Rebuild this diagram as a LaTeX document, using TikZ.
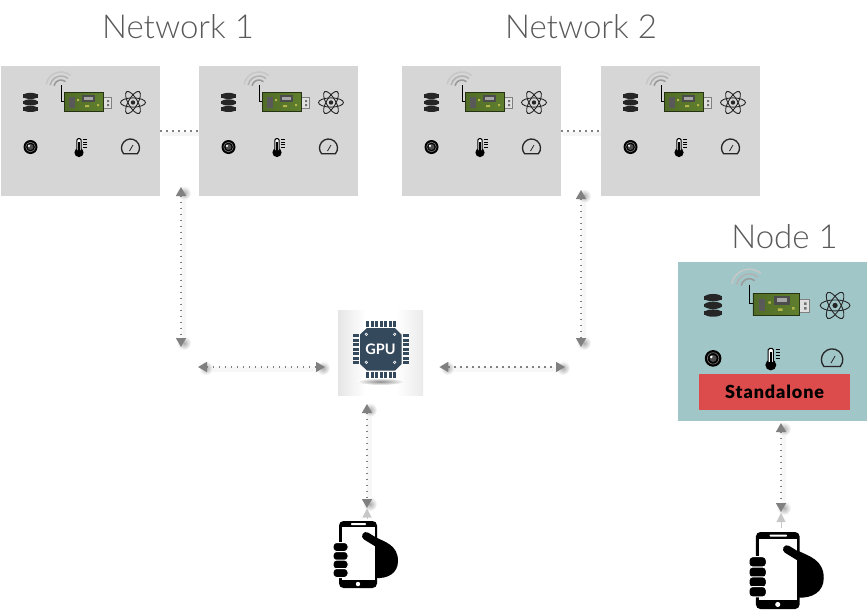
\documentclass[tikz,border=0pt]{standalone}
\usepackage{fontspec}
\setmainfont{Lato}
\newfontfamily\titlefont{Lato Light}
\newfontfamily\heavyfont[LetterSpace=5]{Lato Black}
\usetikzlibrary{arrows.meta,calc}
\definecolor{panelgray}{HTML}{D6D6D6}
\definecolor{panelteal}{HTML}{A0C6C8}
\definecolor{redbar}{HTML}{DC4C4C}
\definecolor{chipblue}{HTML}{34495C}
\definecolor{icondark}{HTML}{262626}
\definecolor{pcb}{HTML}{5F7F2E}
\definecolor{linkgray}{HTML}{808080}
\tikzset{
  panelbox/.style={draw=none,fill=panelgray,inner sep=0pt,anchor=north west,minimum width=159pt,minimum height=130pt},
  titletext/.style={font=\titlefont\fontsize{33}{36}\selectfont,text=black!65,inner sep=0pt},
  dottedlink/.style={draw=linkgray,line width=1.6pt,dash pattern=on 1.8pt off 4.2pt},
  dlink/.style={dottedlink,{Triangle[width=10pt,length=9pt]}-{Triangle[width=10pt,length=9pt]}},
  ghosttip/.style={draw=black!22,line width=.1pt,-{Triangle[width=9pt,length=9pt]}},
  halo/.style={draw=black!3,line width=5pt},
  glow/.style={inner color=black!32,outer color=white,draw=none},
  wifi/.style={draw=black!35,line width=1.5pt},
  sensorset/.pic={
    % database
    \foreach \yy in {30,36.5,43}{
      \fill[icondark] (22,\yy) .. controls (22,\yy-4.2) and (37,\yy-4.2) .. (37,\yy) .. controls (37,\yy+4) and (22,\yy+4) .. (22,\yy) -- cycle;
      \fill[icondark] (22,\yy-1.6) rectangle (37,\yy+1.6);
    }
    % radio board
    \draw[wifi,draw=black!22] ($(60,21)+(-170:15)$) arc[start angle=-170,end angle=-50,radius=15];
    \draw[wifi,draw=black!30] ($(60,21)+(-170:11)$) arc[start angle=-170,end angle=-50,radius=11];
    \draw[wifi,draw=black!40] ($(60,21)+(-170:7)$) arc[start angle=-170,end angle=-50,radius=7];
    \draw[black,line width=1pt] (60,19) -- (60,35) -- (63,35);
    \fill[black!12] (100,31) rectangle (110,42);
    \draw[black!50,line width=.6pt] (100,31) rectangle (110,42);
    \fill[black!55] (106,34) rectangle (108,36) (106,38) rectangle (108,40);
    \shade[left color=pcb!85!black,right color=pcb,draw=black!60!pcb,line width=.6pt] (63,26.5) rectangle (102,45);
    \fill[black!65] (68,31) rectangle (73.5,41.5);
    \fill[black!70] (81,28.5) rectangle (94,36);
    \fill[black!35] (83,30.5) rectangle (92,34);
    \fill[yellow!45!pcb] (76,33) rectangle (78,35) (96,38) rectangle (98,40) (84,39) rectangle (88,41);
    % atom
    \begin{scope}[shift={(132,36.5)}]
      \foreach \aa in {0,60,-60}{
        \draw[icondark,line width=.9pt,rotate=\aa] (0,0) ellipse[x radius=12.5,y radius=4.6];
      }
      \fill[icondark] (0,0) circle[radius=2.2];
    \end{scope}
    % lens
    \fill[black] (29.5,81) circle[radius=7];
    \draw[black!55,line width=.7pt] (29.5,81) circle[radius=4.8];
    \fill[black!70] (29.5,81) circle[radius=3];
    \fill[white] (28,79.8) circle[radius=1.2];
    % thermometer
    \fill[black] (78,86.5) circle[radius=4.6];
    \draw[black,line width=1pt,fill=white,rounded corners=1.6pt] (75.8,84) -- (75.8,72.5) -- (80.2,72.5) -- (80.2,84);
    \fill[black] (77.2,76) rectangle (78.8,86);
    \foreach \yy in {73.5,76,78.5,81}{
      \draw[black,line width=.8pt] (82,\yy) -- (85.5,\yy);
    }
    % gauge
    \draw[icondark,line width=1.3pt] ($(129.5,82)+(40:9)$) arc[start angle=40,end angle=-220,radius=9] -- cycle;
    \draw[icondark,line width=.8pt] (128.5,85) -- (132,79);
  },
  phonehand/.pic={
    \fill[black,rounded corners=4.5pt] (6,0) rectangle (44,67);
    \fill[white] (9,6) rectangle (42,59);
    \fill[white,rounded corners=.7pt] (18,2.2) rectangle (33,4);
    \fill[white] (25,63) circle[radius=2.2];
    % hand
    \fill[black] (42,16) .. controls (52,21) and (65,24) .. (65,40) .. controls (65,52) and (55,58) .. (42,57) -- cycle;
    \draw[black,line width=8pt,line cap=round] (33,15) -- (46,23);
    \foreach \yy in {26,35,43.5,52}{
      \fill[black,draw=white,line width=1pt,rounded corners=3.5pt] (0,\yy-4.5) rectangle (15,\yy+4.5);
    }
  },
}
\newcommand\linkglow[2]{%
  \draw[halo] ([shift={(2pt,-2pt)}]#1) -- ([shift={(2pt,-2pt)}]#2);
  \shade[glow] ([shift={(3pt,-1pt)}]$(#1)!5pt!(#2)$) circle[radius=7pt];
  \shade[glow] ([shift={(3pt,-1pt)}]$(#2)!5pt!(#1)$) circle[radius=7pt];
}
\begin{document}
\begin{tikzpicture}[x=1pt,y=-1pt]
\useasboundingbox (0,0) rectangle (868,611);
% panels
\node[panelbox] (a) at (1,66) {};
\node[panelbox] (b) at (199,66) {};
\node[panelbox] (c) at (402,66) {};
\node[panelbox] (d) at (601,66) {};
\node[panelbox,fill=panelteal,minimum width=189pt,minimum height=159pt] (e) at (678,262) {};
\pic at (1,66) {sensorset};
\pic at (199,66) {sensorset};
\pic at (402,66) {sensorset};
\pic at (601,66) {sensorset};
\pic[scale=1.19] at (678,262) {sensorset};
\node[fill=redbar,inner sep=0pt,minimum width=151pt,minimum height=36pt,anchor=north west,font=\heavyfont\fontsize{18}{20}\selectfont] (s) at (699,374) {Standalone};
% titles
\node[titletext] (t1) at (178,27) {Network 1};
\node[titletext] (t2) at (581,27) {Network 2};
\node[titletext] (t3) at (784.5,237) {Node 1};
% GPU
\node[inner sep=0pt,minimum width=85pt,minimum height=85pt,anchor=north west] (g) at (338,310) {};
\shade[left color=black!10,right color=white,draw=none] (338,310) rectangle (365,395);
\shade[left color=white,right color=black!8,draw=none] (396,310) rectangle (423,395);
\shade[inner color=black!45,outer color=white,draw=none] (380.5,381.5) ellipse[x radius=24,y radius=3.5];
\foreach \k in {0,...,6}{
  \fill[chipblue] (366.4+\k*4.5,321) rectangle +(2.9,6);
  \fill[chipblue] (366.4+\k*4.5,371.5) rectangle +(2.9,6);
  \fill[chipblue] (353,334.3+\k*4.5) rectangle +(6,2.9);
  \fill[chipblue] (402.5,334.3+\k*4.5) rectangle +(6,2.9);
}
\fill[chipblue] (367,328) -- (395,328) -- (401.5,334.5) -- (401.5,364) -- (395,370.5) -- (367,370.5) -- (360,364) -- (360,334.5) -- cycle;
\foreach \p in {(366.3,334.3),(394.7,334.3),(366.3,362.3),(394.7,362.3)}{
  \draw[white,line width=.6pt] \p circle[radius=1.3];
}
\node[text=white,font=\bfseries\fontsize{14.5}{15}\selectfont,inner sep=0pt] (gt) at (380.5,349) {GPU};
% phones
\pic at (333,521) {phonehand};
\pic[scale=1.15] at (749,532) {phonehand};
% link ends
\coordinate (a1) at (181,187);
\coordinate (a2) at (181,347);
\coordinate (h1) at (198,367);
\coordinate (h2) at ($(g.west |- h1)+(-13pt,0)$);
\coordinate (h3) at ($(g.east |- h1)+(16pt,0)$);
\coordinate (h4) at (565,367);
\coordinate (c1) at (581,190);
\coordinate (c2) at (581,347);
\coordinate (g1) at (367,404);
\coordinate (g2) at (367,508);
\coordinate (g3) at (367,519);
\coordinate (g4) at (367,508.5);
\coordinate (e1) at (781,423);
\coordinate (e2) at (781,512);
\coordinate (e3) at (781,528);
\coordinate (e4) at (781,513);
% connectors
\draw[draw=black!4,line width=4pt] ([yshift=-3pt]a.east) ++(2pt,0) -- ([yshift=-3pt]b.west);
\draw[draw=black!4,line width=4pt] ([yshift=-3pt]c.east) ++(2pt,0) -- ([yshift=-3pt]d.west);
\draw[dottedlink] (a.east) -- (b.west);
\draw[dottedlink] (c.east) -- (d.west);
\linkglow{a1}{a2}
\linkglow{c1}{c2}
\linkglow{h1}{h2}
\linkglow{h3}{h4}
\linkglow{g1}{g2}
\linkglow{e1}{e2}
\draw[ghosttip] (g3) -- (g4);
\draw[ghosttip] (e3) -- (e4);
\draw[dlink] (a1) -- (a2);
\draw[dlink] (c1) -- (c2);
\draw[dlink] (h1) -- (h2);
\draw[dlink] (h3) -- (h4);
\draw[dlink] (g1) -- (g2);
\draw[dlink] (e1) -- (e2);
\end{tikzpicture}
\end{document}
